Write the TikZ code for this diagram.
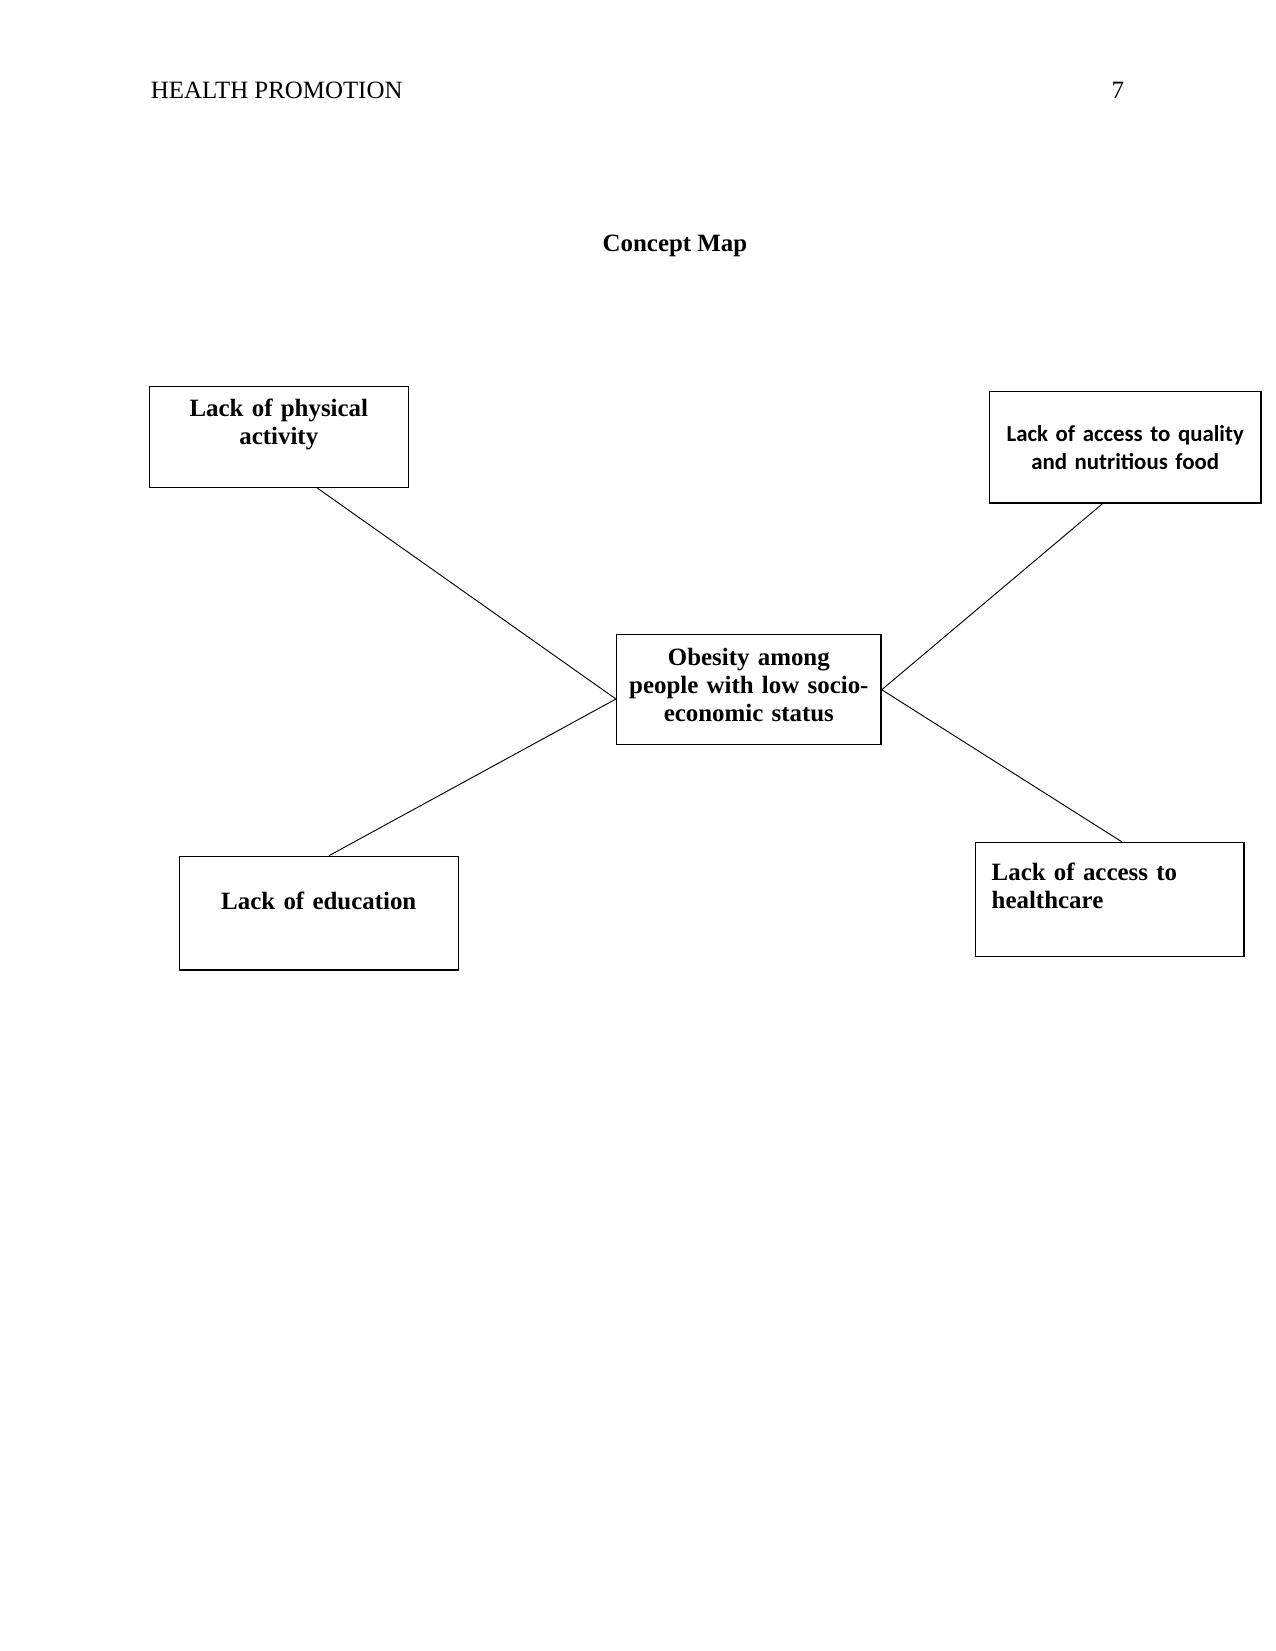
\documentclass[tikz,border=0pt]{standalone}
\usepackage{fontspec}
\setmainfont{Liberation Serif}
\newfontfamily\calibrifont{Carlito}
\usetikzlibrary{positioning}
\newdimen\px \px=0.16933mm
\tikzset{
  mapbox/.style={draw, line width=0.7pt, inner sep=0pt, anchor=north, align=center, font=\fontsize{12}{13.5}\selectfont\bfseries},
  maplink/.style={line width=0.45pt},
  pagetext/.style={inner sep=0pt, font=\fontsize{12}{14}\selectfont}
}

\begin{document}
\begin{tikzpicture}[x=\px, y=-\px]
  \useasboundingbox (0,0) rectangle (1275,1651);
  % running head and title
  \node[pagetext, anchor=base west] (head) at (150.5,98) {HEALTH PROMOTION};
  \node[pagetext, anchor=base east] (pageno) at (1124.5,98) {7};
  \node[pagetext, anchor=base, font=\fontsize{12}{14}\selectfont\bfseries] (title) at (675,251.6) {Concept Map};
  % concept boxes
  \node[mapbox, text width=264.3\px, text height=31\px, text depth=79\px] (core) at (748.85,634) {Obesity among\\people with low socio-\\economic status};
  \node[mapbox, text width=259\px, text height=30.3\px, text depth=70.7\px] (physical) at (278.8,385.7) {Lack of physical\\activity};
  \node[mapbox, text width=271.7\px, text height=50\px, text depth=61.3\px, font=\fontsize{11}{13.6}\selectfont\calibrifont\bfseries] (food) at (1125.2,391) {Lack of access to quality\\and nutritious food};
  \node[mapbox, text width=279\px, text height=52.6\px, text depth=61\px] (education) at (318.8,855.7) {Lack of education};
  \node[mapbox, align=left, inner xsep=16\px, text width=236.3\px, text height=37.3\px, text depth=76.4\px] (healthcare) at (1109.85,842) {Lack of access to\\healthcare};
  % links to the centre
  \draw[maplink] (physical.-53.8) -- (core.184.5);
  \draw[maplink] (education.80.5) -- (core.184.5);
  \draw[maplink] (food.248.5) -- (core.0.7);
  \draw[maplink] (healthcare.78.3) -- (core.0.7);
\end{tikzpicture}
\end{document}
